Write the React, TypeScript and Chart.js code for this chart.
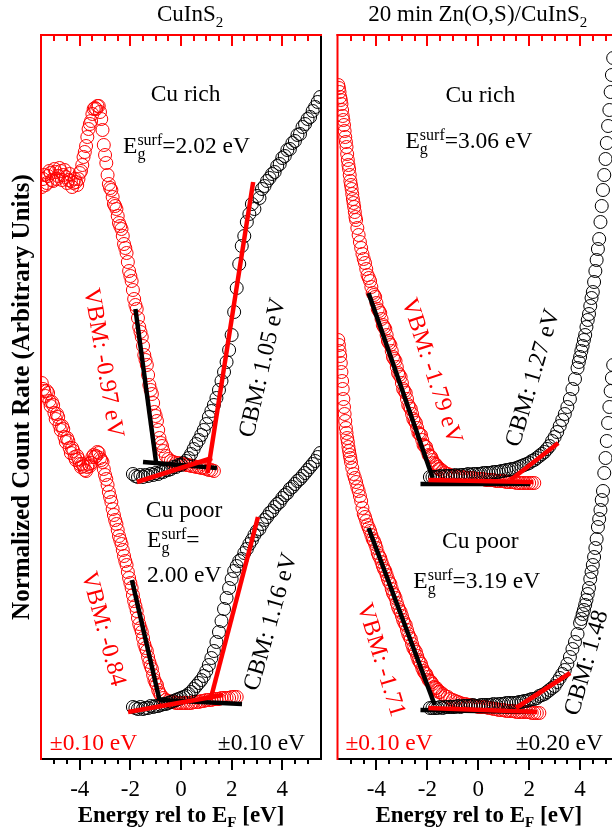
import { useEffect, useRef } from "react";
import { Chart, registerables } from "chart.js";

Chart.register(...registerables);

type Pt = [number, number];

// Band-edge positions (eV rel. to E_F) and surface gaps for the four samples:
// CuInS2 Cu rich, CuInS2 Cu poor, Zn(O,S)/CuInS2 Cu rich, Zn(O,S)/CuInS2 Cu poor
const vbm = [-0.97, -0.84, -1.79, -1.71];
const cbm = [1.05, 1.16, 1.27, 1.48];
const gapSurf = [2.02, 2.0, 3.06, 3.19];

const tickLabels = [-4, -2, 0, 2, 4];
const minorTicks = [
  -5.5, -5, -4.5, -4, -3.5, -3, -2.5, -2, -1.5, -1, -0.5, 0, 0.5, 1, 1.5, 2, 2.5, 3, 3.5, 4, 4.5, 5, 5.5,
];

// ---------- CuInS2 : Cu rich ----------
const cisRichVb: Pt[] = [
  [-5.5, 5.72], [-5.4, 5.84], [-5.3, 5.76], [-5.2, 5.88], [-5.1, 5.79], [-5.0, 5.9], [-4.9, 5.8], [-4.8, 5.91],
  [-4.7, 5.79], [-4.6, 5.89], [-4.5, 5.76], [-4.4, 5.85], [-4.3, 5.72], [-4.2, 5.8], [-4.1, 5.74], [-4.0, 5.86],
  [-3.9, 5.94], [-3.8, 6.07], [-3.7, 6.22], [-3.6, 6.35], [-3.5, 6.45], [-3.4, 6.51], [-3.3, 6.53], [-3.2, 6.47],
  [-3.1, 6.29], [-3.0, 6.04], [-2.9, 5.84], [-2.8, 5.71], [-2.7, 5.62], [-2.6, 5.53], [-2.5, 5.43], [-2.4, 5.33],
  [-2.3, 5.23], [-2.2, 5.11], [-2.1, 4.97], [-2.0, 4.83], [-1.9, 4.69], [-1.8, 4.54], [-1.7, 4.41], [-1.6, 4.27],
  [-1.5, 4.13], [-1.4, 3.99], [-1.3, 3.84], [-1.2, 3.69], [-1.1, 3.56], [-1.0, 3.43], [-0.9, 3.29], [-0.8, 3.16],
  [-0.7, 3.08], [-0.6, 3.03], [-0.5, 3.0], [-0.4, 2.98], [-0.3, 2.97], [-0.2, 2.96], [-0.1, 2.96], [0.0, 2.95],
  [0.1, 2.95], [0.2, 2.94], [0.3, 2.94], [0.4, 2.93], [0.5, 2.93], [0.6, 2.92], [0.7, 2.92], [0.8, 2.91],
  [0.9, 2.91], [1.0, 2.9], [1.1, 2.89], [1.2, 2.89], [1.3, 2.88],
  // half-step readings
  [-5.45, 5.8], [-5.35, 5.74], [-5.25, 5.83], [-5.15, 5.86], [-5.05, 5.78], [-4.95, 5.87], [-4.85, 5.83],
  [-4.75, 5.88], [-4.65, 5.84], [-4.55, 5.82], [-4.45, 5.79], [-4.35, 5.78], [-4.25, 5.76], [-4.15, 5.77],
  [-4.05, 5.8], [-3.95, 5.88], [-3.85, 6.02], [-3.75, 6.13], [-3.65, 6.3], [-3.55, 6.38], [-3.45, 6.5],
  [-3.35, 6.5], [-3.25, 6.53], [-3.15, 6.4], [-3.05, 6.14], [-2.95, 5.96], [-2.85, 5.75], [-2.75, 5.69],
  [-2.65, 5.55], [-2.55, 5.5], [-2.45, 5.36], [-2.35, 5.3], [-2.25, 5.15], [-2.15, 5.06], [-2.05, 4.88],
  [-1.95, 4.78], [-1.85, 4.6], [-1.75, 4.5], [-1.65, 4.32], [-1.55, 4.22], [-1.45, 4.04], [-1.35, 3.94],
  [-1.25, 3.74], [-1.15, 3.65], [-1.05, 3.47], [-0.95, 3.38], [-0.85, 3.21], [-0.75, 3.13],
];
const cisRichCb: Pt[] = [
  [-1.9, 2.85], [-1.8, 2.83], [-1.7, 2.82], [-1.6, 2.84], [-1.5, 2.82], [-1.4, 2.84], [-1.3, 2.83], [-1.2, 2.85],
  [-1.1, 2.84], [-1.0, 2.86], [-0.9, 2.85], [-0.8, 2.87], [-0.7, 2.87], [-0.6, 2.89], [-0.5, 2.89], [-0.4, 2.9],
  [-0.3, 2.92], [-0.2, 2.92], [-0.1, 2.94], [0.0, 2.94], [0.1, 2.96], [0.2, 2.98], [0.3, 3.01], [0.4, 3.05],
  [0.5, 3.1], [0.6, 3.15], [0.7, 3.19], [0.8, 3.24], [0.9, 3.29], [1.0, 3.35], [1.1, 3.42], [1.2, 3.48],
  [1.3, 3.54], [1.4, 3.61], [1.5, 3.69], [1.6, 3.78], [1.7, 3.87], [1.8, 3.97], [1.9, 4.09], [2.0, 4.24],
  [2.1, 4.47], [2.2, 4.71], [2.3, 4.95], [2.4, 5.13], [2.5, 5.23], [2.6, 5.37], [2.7, 5.45], [2.8, 5.55],
  [2.9, 5.5], [3.0, 5.63], [3.1, 5.61], [3.2, 5.7], [3.3, 5.73], [3.4, 5.78], [3.5, 5.81], [3.6, 5.85],
  [3.7, 5.87], [3.8, 5.93], [3.9, 5.95], [4.0, 6.01], [4.1, 6.03], [4.2, 6.09], [4.3, 6.1], [4.4, 6.16],
  [4.5, 6.18], [4.6, 6.24], [4.7, 6.25], [4.8, 6.32], [4.9, 6.35], [5.0, 6.4], [5.1, 6.42], [5.2, 6.48],
  [5.3, 6.52], [5.4, 6.57], [5.5, 6.62],
];
const cisRichVbFit: Pt[] = [[-1.8, 4.5], [vbm[0], 2.94]];
const cisRichVbBase: Pt[] = [[-1.5, 2.97], [1.42, 2.91]];
const cisRichCbFit: Pt[] = [[2.85, 5.77], [cbm[0], 2.86]];
const cisRichCbBase: Pt[] = [[-1.74, 2.77], [1.23, 3.01]];

// ---------- CuInS2 : Cu poor ----------
const cisPoorVb: Pt[] = [
  [-5.5, 3.76], [-5.4, 3.68], [-5.3, 3.68], [-5.2, 3.58], [-5.1, 3.57], [-5.0, 3.46], [-4.9, 3.45], [-4.8, 3.34],
  [-4.7, 3.33], [-4.6, 3.22], [-4.5, 3.21], [-4.4, 3.11], [-4.3, 3.11], [-4.2, 3.02], [-4.1, 3.03], [-4.0, 2.95],
  [-3.9, 2.95], [-3.8, 2.89], [-3.7, 2.92], [-3.6, 2.93], [-3.5, 3.02], [-3.4, 3.02], [-3.3, 3.07], [-3.2, 3.01],
  [-3.1, 2.97], [-3.0, 2.84], [-2.9, 2.74], [-2.8, 2.62], [-2.7, 2.5], [-2.6, 2.39], [-2.5, 2.29], [-2.4, 2.19],
  [-2.3, 2.09], [-2.2, 1.98], [-2.1, 1.87], [-2.0, 1.76], [-1.9, 1.64], [-1.8, 1.53], [-1.7, 1.41], [-1.6, 1.31],
  [-1.5, 1.21], [-1.4, 1.11], [-1.3, 1.02], [-1.2, 0.93], [-1.1, 0.84], [-1.0, 0.76], [-0.9, 0.69], [-0.8, 0.64],
  [-0.7, 0.61], [-0.6, 0.59], [-0.5, 0.58], [-0.4, 0.57], [-0.3, 0.57], [-0.2, 0.56], [-0.1, 0.56], [0.0, 0.56],
  [0.1, 0.56], [0.2, 0.56], [0.3, 0.56], [0.4, 0.56], [0.5, 0.57], [0.6, 0.57], [0.7, 0.57], [0.8, 0.58],
  [0.9, 0.58], [1.0, 0.59], [1.1, 0.59], [1.2, 0.59], [1.3, 0.6], [1.4, 0.6], [1.5, 0.6], [1.6, 0.61],
  [1.7, 0.61], [1.8, 0.61], [1.9, 0.61], [2.0, 0.62], [2.1, 0.62], [2.2, 0.62],
  // half-step readings
  [-5.45, 3.7], [-5.35, 3.63], [-5.25, 3.66], [-5.15, 3.53], [-5.05, 3.54], [-4.95, 3.4], [-4.85, 3.42],
  [-4.75, 3.29], [-4.65, 3.3], [-4.55, 3.17], [-4.45, 3.18], [-4.35, 3.06], [-4.25, 3.08], [-4.15, 2.99],
  [-4.05, 3.0], [-3.95, 2.92], [-3.85, 2.93], [-3.75, 2.88], [-3.65, 2.95], [-3.55, 2.96], [-3.45, 3.04],
  [-3.35, 3.03], [-3.25, 3.06], [-3.15, 2.99], [-3.05, 2.9], [-2.95, 2.8], [-2.85, 2.67], [-2.75, 2.57],
  [-2.65, 2.44], [-2.55, 2.35], [-2.45, 2.23], [-2.35, 2.15], [-2.25, 2.03], [-2.15, 1.94], [-2.05, 1.81],
  [-1.95, 1.71], [-1.85, 1.58], [-1.75, 1.48], [-1.65, 1.35], [-1.55, 1.27], [-1.45, 1.15], [-1.35, 1.08],
  [-1.25, 0.97], [-1.15, 0.9], [-1.05, 0.79], [-0.95, 0.74], [-0.85, 0.66],
];
const cisPoorCb: Pt[] = [
  [-1.9, 0.52], [-1.8, 0.51], [-1.7, 0.5], [-1.6, 0.52], [-1.5, 0.5], [-1.4, 0.51], [-1.3, 0.51], [-1.2, 0.53],
  [-1.1, 0.52], [-1.0, 0.53], [-0.9, 0.53], [-0.8, 0.54], [-0.7, 0.55], [-0.6, 0.55], [-0.5, 0.56], [-0.4, 0.57],
  [-0.3, 0.58], [-0.2, 0.59], [-0.1, 0.6], [0.0, 0.61], [0.1, 0.62], [0.2, 0.63], [0.3, 0.65], [0.4, 0.67],
  [0.5, 0.7], [0.6, 0.73], [0.7, 0.76], [0.8, 0.79], [0.9, 0.83], [1.0, 0.88], [1.1, 0.94], [1.2, 1.01],
  [1.3, 1.08], [1.4, 1.17], [1.5, 1.27], [1.6, 1.38], [1.7, 1.5], [1.8, 1.61], [1.9, 1.71], [2.0, 1.8],
  [2.1, 1.88], [2.2, 1.93], [2.3, 1.98], [2.4, 2.0], [2.5, 2.06], [2.6, 2.1], [2.7, 2.15], [2.8, 2.19],
  [2.9, 2.24], [3.0, 2.28], [3.1, 2.3], [3.2, 2.35], [3.3, 2.39], [3.4, 2.42], [3.5, 2.46], [3.6, 2.48],
  [3.7, 2.52], [3.8, 2.55], [3.9, 2.57], [4.0, 2.61], [4.1, 2.64], [4.2, 2.66], [4.3, 2.7], [4.4, 2.72],
  [4.5, 2.75], [4.6, 2.78], [4.7, 2.8], [4.8, 2.83], [4.9, 2.86], [5.0, 2.89], [5.1, 2.92], [5.2, 2.95],
  [5.3, 2.98], [5.4, 3.02], [5.5, 3.06],
];
const cisPoorVbFit: Pt[] = [[-1.94, 1.79], [vbm[1], 0.58]];
const cisPoorVbBase: Pt[] = [[-0.87, 0.59], [2.41, 0.55]];
const cisPoorCbFit: Pt[] = [[3.04, 2.42], [cbm[1], 0.59]];
const cisPoorCbBase: Pt[] = [[-2.09, 0.47], [1.66, 0.64]];

// ---------- 20 min Zn(O,S)/CuInS2 : Cu rich ----------
const znRichVb: Pt[] = [
  [-5.5, 6.74], [-5.45, 6.67], [-5.4, 6.59], [-5.35, 6.49], [-5.3, 6.39], [-5.25, 6.28], [-5.2, 6.17],
  [-5.15, 6.05], [-5.1, 5.94], [-5.05, 5.84], [-5.0, 5.74], [-4.95, 5.65], [-4.9, 5.56], [-4.85, 5.47],
  [-4.8, 5.39], [-4.75, 5.31], [-4.7, 5.24], [-4.65, 5.17], [-4.6, 5.11], [-4.55, 5.05], [-4.5, 5.0],
  [-4.4, 4.9], [-4.3, 4.81], [-4.2, 4.72], [-4.1, 4.64], [-4.0, 4.56], [-3.9, 4.48], [-3.8, 4.4], [-3.7, 4.32],
  [-3.6, 4.24], [-3.5, 4.16], [-3.4, 4.08], [-3.3, 4.0], [-3.2, 3.92], [-3.1, 3.84], [-3.0, 3.76], [-2.9, 3.68],
  [-2.8, 3.6], [-2.7, 3.52], [-2.6, 3.45], [-2.5, 3.38], [-2.4, 3.31], [-2.3, 3.25], [-2.2, 3.19], [-2.1, 3.13],
  [-2.0, 3.08], [-1.9, 3.03], [-1.8, 2.99], [-1.7, 2.95], [-1.6, 2.92], [-1.5, 2.9], [-1.4, 2.88], [-1.3, 2.86],
  [-1.2, 2.85], [-1.1, 2.84], [-1.0, 2.83], [-0.9, 2.83], [-0.8, 2.82], [-0.7, 2.82], [-0.6, 2.82], [-0.5, 2.81],
  [-0.4, 2.81], [-0.3, 2.81], [-0.2, 2.81], [-0.1, 2.8], [0.0, 2.8], [0.1, 2.8], [0.2, 2.8], [0.3, 2.79],
  [0.4, 2.79], [0.5, 2.79], [0.6, 2.79], [0.7, 2.78], [0.8, 2.78], [0.9, 2.78], [1.0, 2.78], [1.1, 2.77],
  [1.2, 2.77], [1.3, 2.77], [1.4, 2.77], [1.5, 2.76], [1.6, 2.76], [1.7, 2.76], [1.8, 2.76], [1.9, 2.76],
  [2.0, 2.76], [2.1, 2.76], [2.2, 2.76],
  // intermediate readings
  [-5.475, 6.71], [-5.425, 6.62], [-5.375, 6.55], [-5.325, 6.43], [-5.275, 6.34], [-5.225, 6.22],
  [-5.175, 6.12], [-5.125, 5.99], [-5.075, 5.9], [-5.025, 5.78], [-4.975, 5.7], [-4.925, 5.6], [-4.875, 5.52],
  [-4.825, 5.42], [-4.45, 4.96], [-4.35, 4.84], [-4.25, 4.78], [-4.15, 4.66], [-4.05, 4.62], [-3.95, 4.5],
  [-3.85, 4.46], [-3.75, 4.34], [-3.65, 4.3], [-3.55, 4.18], [-3.45, 4.14], [-3.35, 4.02], [-3.25, 3.98],
  [-3.15, 3.86], [-3.05, 3.82], [-2.95, 3.7], [-2.85, 3.66], [-2.75, 3.54], [-2.65, 3.5], [-2.55, 3.4],
  [-2.45, 3.36], [-2.35, 3.26], [-2.25, 3.24], [-2.15, 3.14], [-2.05, 3.12], [-1.95, 3.04], [-1.85, 3.02],
  [-1.75, 2.96], [-1.65, 2.94], [-1.55, 2.9],
];
const znRichCb: Pt[] = [
  [-1.9, 2.82], [-1.8, 2.82], [-1.7, 2.82], [-1.6, 2.82], [-1.5, 2.83], [-1.4, 2.82], [-1.3, 2.83], [-1.2, 2.83],
  [-1.1, 2.83], [-1.0, 2.83], [-0.9, 2.84], [-0.8, 2.83], [-0.7, 2.84], [-0.6, 2.84], [-0.5, 2.84], [-0.4, 2.85],
  [-0.3, 2.84], [-0.2, 2.85], [-0.1, 2.85], [0.0, 2.85], [0.1, 2.85], [0.2, 2.86], [0.3, 2.86], [0.4, 2.86],
  [0.5, 2.86], [0.6, 2.87], [0.7, 2.87], [0.8, 2.87], [0.9, 2.88], [1.0, 2.88], [1.1, 2.89], [1.2, 2.89],
  [1.3, 2.9], [1.4, 2.9], [1.5, 2.91], [1.6, 2.92], [1.7, 2.93], [1.8, 2.94], [1.9, 2.95], [2.0, 2.96],
  [2.1, 2.98], [2.2, 2.99], [2.3, 3.01], [2.4, 3.03], [2.5, 3.05], [2.6, 3.07], [2.7, 3.1], [2.8, 3.13],
  [2.9, 3.18], [3.0, 3.22], [3.1, 3.27], [3.2, 3.33], [3.3, 3.39], [3.4, 3.45], [3.5, 3.52], [3.6, 3.6],
  [3.7, 3.7], [3.8, 3.8], [3.9, 3.91], [3.95, 3.97], [4.0, 4.02], [4.05, 4.08], [4.1, 4.13], [4.15, 4.19],
  [4.2, 4.24], [4.25, 4.32], [4.3, 4.39], [4.35, 4.45], [4.4, 4.53], [4.45, 4.61], [4.5, 4.67], [4.55, 4.77],
  [4.6, 4.88], [4.65, 4.99], [4.7, 5.1], [4.75, 5.2], [4.8, 5.37], [4.85, 5.53], [4.9, 5.69], [4.95, 5.84],
  [5.0, 6.0], [5.05, 6.16], [5.1, 6.33], [5.15, 6.49], [5.2, 6.67], [5.25, 6.84], [5.3, 7.01],
];
const znRichVbFit: Pt[] = [[-4.31, 4.66], [vbm[2], 2.81]];
const znRichVbBase: Pt[] = [[-2.27, 2.75], [2.04, 2.75]];
const znRichCbFit: Pt[] = [[3.14, 3.16], [cbm[2], 2.79]];
const znRichCbBase: Pt[] = [[-1.96, 2.79], [2.16, 2.77]];

// ---------- 20 min Zn(O,S)/CuInS2 : Cu poor ----------
const znPoorVb: Pt[] = [
  [-5.5, 4.19], [-5.45, 4.08], [-5.4, 3.96], [-5.35, 3.78], [-5.3, 3.6], [-5.25, 3.45], [-5.2, 3.31],
  [-5.15, 3.21], [-5.1, 3.12], [-5.05, 3.04], [-5.0, 2.97], [-4.95, 2.91], [-4.9, 2.85], [-4.85, 2.81],
  [-4.8, 2.77], [-4.75, 2.72], [-4.7, 2.68], [-4.65, 2.63], [-4.6, 2.58], [-4.55, 2.51], [-4.5, 2.45],
  [-4.4, 2.38], [-4.3, 2.31], [-4.2, 2.24], [-4.1, 2.18], [-4.0, 2.11], [-3.9, 2.03], [-3.8, 1.97], [-3.7, 1.9],
  [-3.6, 1.84], [-3.5, 1.77], [-3.4, 1.7], [-3.3, 1.64], [-3.2, 1.56], [-3.1, 1.49], [-3.0, 1.43], [-2.9, 1.36],
  [-2.8, 1.29], [-2.7, 1.22], [-2.6, 1.15], [-2.5, 1.09], [-2.4, 1.03], [-2.3, 0.97], [-2.2, 0.91], [-2.1, 0.86],
  [-2.0, 0.82], [-1.9, 0.78], [-1.8, 0.75], [-1.7, 0.71], [-1.6, 0.69], [-1.5, 0.67], [-1.4, 0.65], [-1.3, 0.63],
  [-1.2, 0.62], [-1.1, 0.6], [-1.0, 0.59], [-0.9, 0.58], [-0.8, 0.57], [-0.7, 0.56], [-0.6, 0.55], [-0.5, 0.55],
  [-0.4, 0.54], [-0.3, 0.54], [-0.2, 0.53], [-0.1, 0.53], [0.0, 0.52], [0.1, 0.52], [0.2, 0.52], [0.3, 0.52],
  [0.4, 0.51], [0.5, 0.51], [0.6, 0.5], [0.7, 0.5], [0.8, 0.49], [0.9, 0.49], [1.0, 0.49], [1.1, 0.48],
  [1.2, 0.48], [1.3, 0.48], [1.4, 0.48], [1.5, 0.47], [1.6, 0.47], [1.7, 0.47], [1.8, 0.47], [1.9, 0.47],
  [2.0, 0.47], [2.1, 0.46], [2.2, 0.46], [2.3, 0.46], [2.4, 0.46],
  // intermediate readings
  [-5.475, 4.14], [-5.425, 4.03], [-5.375, 3.87], [-5.325, 3.7], [-5.275, 3.52], [-5.225, 3.38],
  [-5.175, 3.26], [-5.125, 3.17], [-5.075, 3.08], [-5.025, 3.01], [-4.45, 2.42], [-4.35, 2.34], [-4.25, 2.28],
  [-4.15, 2.2], [-4.05, 2.15], [-3.95, 2.06], [-3.85, 2.01], [-3.75, 1.93], [-3.65, 1.88], [-3.55, 1.8],
  [-3.45, 1.75], [-3.35, 1.66], [-3.25, 1.61], [-3.15, 1.52], [-3.05, 1.47], [-2.95, 1.39], [-2.85, 1.34],
  [-2.75, 1.25], [-2.65, 1.2], [-2.55, 1.11], [-2.45, 1.07], [-2.35, 0.99], [-2.25, 0.95], [-2.15, 0.88],
  [-2.05, 0.85], [-1.95, 0.79], [-1.85, 0.77], [-1.75, 0.72], [-1.65, 0.71], [-1.55, 0.67],
];
const znPoorCb: Pt[] = [
  [-1.9, 0.51], [-1.8, 0.51], [-1.7, 0.51], [-1.6, 0.51], [-1.5, 0.52], [-1.4, 0.51], [-1.3, 0.52], [-1.2, 0.52],
  [-1.1, 0.52], [-1.0, 0.52], [-0.9, 0.52], [-0.8, 0.53], [-0.7, 0.52], [-0.6, 0.53], [-0.5, 0.53], [-0.4, 0.53],
  [-0.3, 0.53], [-0.2, 0.54], [-0.1, 0.53], [0.0, 0.53], [0.1, 0.54], [0.2, 0.54], [0.3, 0.54], [0.4, 0.54],
  [0.5, 0.54], [0.6, 0.55], [0.7, 0.54], [0.8, 0.55], [0.9, 0.55], [1.0, 0.55], [1.1, 0.56], [1.2, 0.56],
  [1.3, 0.56], [1.4, 0.56], [1.5, 0.56], [1.6, 0.57], [1.7, 0.57], [1.8, 0.58], [1.9, 0.58], [2.0, 0.59],
  [2.1, 0.6], [2.2, 0.6], [2.3, 0.61], [2.4, 0.63], [2.5, 0.64], [2.6, 0.65], [2.7, 0.67], [2.8, 0.69],
  [2.9, 0.71], [3.0, 0.73], [3.1, 0.77], [3.2, 0.81], [3.3, 0.85], [3.4, 0.89], [3.5, 0.95], [3.6, 1.02],
  [3.7, 1.1], [3.8, 1.17], [3.9, 1.25], [4.0, 1.36], [4.05, 1.4], [4.1, 1.45], [4.15, 1.49], [4.2, 1.54],
  [4.25, 1.59], [4.3, 1.65], [4.35, 1.71], [4.4, 1.8], [4.45, 1.87], [4.5, 1.94], [4.55, 2.02], [4.6, 2.11],
  [4.65, 2.2], [4.7, 2.32], [4.75, 2.4], [4.8, 2.49], [4.85, 2.59], [4.9, 2.68], [4.95, 2.86], [5.0, 3.01],
  [5.05, 3.18], [5.1, 3.36], [5.15, 3.52], [5.2, 3.68], [5.25, 3.81], [5.3, 3.94],
];
const znPoorVbFit: Pt[] = [[-4.31, 2.31], [vbm[3], 0.54]];
const znPoorVbBase: Pt[] = [[-2.27, 0.49], [2.16, 0.47]];
const znPoorCbFit: Pt[] = [[3.61, 0.86], [cbm[3], 0.51]];
const znPoorCbBase: Pt[] = [[-1.96, 0.51], [2.31, 0.47]];

const SERIF = "'Liberation Serif', 'Times New Roman', Times, serif";
const RED = "#ff0000";
const BLACK = "#000000";
const PAGE_H = 835;
const Y_MAX = 7.24;

type Run = { t: string; size?: number; dy?: number; bold?: boolean; stack?: boolean };
type Note = {
  runs: Run[];
  x: number;
  y: number;
  align?: "left" | "center" | "right";
  rotate?: number;
  color?: string;
  mid?: boolean;
};

const TXT = 23.5;
const ROT = 24;

const egRuns = (rest: string): Run[] => [
  { t: "E" },
  { t: "g", size: 16, dy: 6, stack: true },
  { t: "surf", size: 16, dy: -8 },
  { t: rest },
];
const plain = (t: string, size = TXT): Run[] => [{ t, size }];
const axisTitle: Run[] = [
  { t: "Energy rel to E", bold: true, size: 23 },
  { t: "F", bold: true, size: 15, dy: 5 },
  { t: " [eV]", bold: true, size: 23 },
];

type PanelSpec = {
  left: number;
  width: number;
  padLeft: number;
  padRight: number;
  xMin: number;
  xMax: number;
  rightBorder: string;
  redSets: Pt[][];
  blackSets: Pt[][];
  blackFits: Pt[][];
  redFits: Pt[][];
  notes: Note[];
};

const leftPanel: PanelSpec = {
  left: 0,
  width: 330,
  padLeft: 41,
  padRight: 9,
  xMin: -5.53,
  xMax: 5.53,
  rightBorder: BLACK,
  redSets: [cisRichVb, cisPoorVb],
  blackSets: [cisRichCb, cisPoorCb],
  blackFits: [cisRichVbFit, cisRichVbBase, cisPoorVbFit, cisPoorVbBase],
  redFits: [cisRichCbFit, cisRichCbBase, cisPoorCbFit, cisPoorCbBase],
  notes: [
    { runs: [{ t: "CuInS", size: 23 }, { t: "2", size: 15, dy: 6 }], x: 0.36, y: 7.38, align: "center" },
    { runs: plain("Cu rich"), x: 0.18, y: 6.58, align: "center" },
    { runs: egRuns(`=${gapSurf[0].toFixed(2)} eV`), x: -2.29, y: 6.06 },
    { runs: plain(`VBM: ${vbm[0].toFixed(2)} eV`, ROT), x: -3.08, y: 3.96, rotate: 80.5, color: RED, align: "center", mid: true },
    { runs: plain(`CBM: ${cbm[0].toFixed(2)} eV`, ROT), x: 3.24, y: 3.91, rotate: -77, align: "center", mid: true },
    { runs: plain("Cu poor"), x: 0.12, y: 2.42, align: "center" },
    { runs: egRuns("="), x: -1.34, y: 2.12 },
    { runs: plain(`${gapSurf[1].toFixed(2)} eV`), x: -1.34, y: 1.77 },
    { runs: plain(`VBM: ${vbm[1].toFixed(2)}`, ROT), x: -3.08, y: 1.3, rotate: 75, color: RED, align: "center", mid: true },
    { runs: plain(`CBM: ${cbm[1].toFixed(2)} eV`, ROT), x: 3.56, y: 1.37, rotate: -74, align: "center", mid: true },
    { runs: plain("\u00b10.10 eV"), x: -5.18, y: 0.09, color: RED },
    { runs: plain("\u00b10.10 eV"), x: 4.9, y: 0.09, align: "right" },
    { runs: axisTitle, x: 0, y: -0.63, align: "center" },
    {
      runs: [{ t: "Normalized Count Rate (Arbitrary Units)", bold: true, size: 25 }],
      x: -6.245,
      y: 3.62,
      rotate: -90,
      align: "center",
      mid: true,
    },
  ],
};

const rightPanel: PanelSpec = {
  left: 330,
  width: 300,
  padLeft: 7,
  padRight: 13,
  xMin: -5.53,
  xMax: 5.45,
  rightBorder: BLACK,
  redSets: [znRichVb, znPoorVb],
  blackSets: [znRichCb, znPoorCb],
  blackFits: [znRichVbFit, znRichVbBase, znPoorVbFit, znPoorVbBase],
  redFits: [znRichCbFit, znRichCbBase, znPoorCbFit, znPoorCbBase],
  notes: [
    {
      runs: [{ t: "20 min Zn(O,S)/CuInS", size: 23 }, { t: "2", size: 15, dy: 6 }],
      x: -0.02,
      y: 7.38,
      align: "center",
    },
    { runs: plain("Cu rich"), x: 0.08, y: 6.57, align: "center" },
    { runs: egRuns(`=${gapSurf[2].toFixed(2)} eV`), x: -2.86, y: 6.11 },
    { runs: plain(`VBM: ${vbm[2].toFixed(2)} eV`, ROT), x: -1.84, y: 3.88, rotate: 72, color: RED, align: "center", mid: true },
    { runs: plain(`CBM: ${cbm[2].toFixed(2)} eV`, ROT), x: 2.16, y: 3.81, rotate: -73.6, align: "center", mid: true },
    { runs: plain("Cu poor"), x: 0.08, y: 2.11, align: "center" },
    { runs: egRuns(`=${gapSurf[3].toFixed(2)} eV`), x: -2.55, y: 1.71 },
    { runs: plain(`VBM: ${vbm[3].toFixed(2)}`, ROT), x: -3.84, y: 0.99, rotate: 73, color: RED, align: "center", mid: true },
    { runs: plain(`CBM: ${cbm[3].toFixed(2)}`, ROT), x: 4.27, y: 0.96, rotate: -74, align: "center", mid: true },
    { runs: plain("\u00b10.10 eV"), x: -5.22, y: 0.09, color: RED },
    { runs: plain("\u00b10.20 eV"), x: 4.9, y: 0.09, align: "right" },
    { runs: axisTitle, x: 0.02, y: -0.63, align: "center" },
  ],
};

const fontOf = (r: Run) => `${r.bold ? "bold " : ""}${r.size ?? TXT}px ${SERIF}`;

function drawNote(chart: Chart, n: Note) {
  const ctx = chart.ctx;
  const px = chart.scales.x.getPixelForValue(n.x);
  const py = chart.scales.y.getPixelForValue(n.y);
  const placed: { r: Run; x: number }[] = [];
  let cx = 0;
  for (let i = 0; i < n.runs.length; i++) {
    const r = n.runs[i];
    ctx.font = fontOf(r);
    const w = ctx.measureText(r.t).width;
    if (r.stack && i + 1 < n.runs.length) {
      const r2 = n.runs[i + 1];
      ctx.font = fontOf(r2);
      const w2 = ctx.measureText(r2.t).width;
      placed.push({ r, x: cx }, { r: r2, x: cx });
      cx += Math.max(w, w2);
      i++;
    } else {
      placed.push({ r, x: cx });
      cx += w;
    }
  }
  const off = n.align === "center" ? -cx / 2 : n.align === "right" ? -cx : 0;
  ctx.save();
  ctx.translate(px, py);
  if (n.rotate) ctx.rotate((n.rotate * Math.PI) / 180);
  ctx.fillStyle = n.color ?? BLACK;
  ctx.textAlign = "left";
  ctx.textBaseline = n.mid ? "middle" : "alphabetic";
  for (const p of placed) {
    ctx.font = fontOf(p.r);
    ctx.fillText(p.r.t, off + p.x, p.r.dy ?? 0);
  }
  ctx.restore();
}

function framePlugin(spec: PanelSpec) {
  return {
    id: "frameAndNotes",
    afterDraw(chart: Chart) {
      const ctx = chart.ctx;
      const a = chart.chartArea;
      const xs = chart.scales.x;
      ctx.save();
      ctx.lineWidth = 2;
      ctx.lineCap = "butt";
      const seg = (x1: number, y1: number, x2: number, y2: number, c: string) => {
        ctx.strokeStyle = c;
        ctx.beginPath();
        ctx.moveTo(x1, y1);
        ctx.lineTo(x2, y2);
        ctx.stroke();
      };
      for (const v of minorTicks) {
        const px = Math.round(xs.getPixelForValue(v));
        if (px < a.left + 3 || px > a.right - 3) continue;
        const major = tickLabels.includes(v);
        seg(px, a.top, px, a.top + (major ? 11 : 6), RED);
        seg(px, a.bottom, px, a.bottom + (major ? 11 : 5), BLACK);
      }
      seg(a.right, a.top - 1, a.right, a.bottom + 1, spec.rightBorder);
      seg(a.left, a.bottom, a.right + 1, a.bottom, BLACK);
      seg(a.left - 1, a.top, a.right + 1, a.top, RED);
      seg(a.left, a.top - 1, a.left, a.bottom + 1, RED);
      ctx.restore();
      for (const n of spec.notes) drawNote(chart, n);
    },
  };
}

const toXY = (pts: Pt[]) => pts.map(([x, y]) => ({ x, y }));

function buildConfig(spec: PanelSpec): any {
  const circles = (pts: Pt[], color: string, order: number) => ({
    data: toXY(pts),
    showLine: false,
    pointRadius: 6.5,
    pointHoverRadius: 6.5,
    pointBorderWidth: 1,
    pointBorderColor: color,
    pointBackgroundColor: "rgba(0,0,0,0)",
    order,
  });
  const fit = (pts: Pt[], color: string, order: number) => ({
    data: toXY(pts),
    showLine: true,
    borderColor: color,
    borderWidth: 4.5,
    pointRadius: 0,
    pointHoverRadius: 0,
    order,
  });
  return {
    type: "scatter",
    data: {
      datasets: [
        ...spec.redFits.map((p) => fit(p, RED, 0)),
        ...spec.blackFits.map((p) => fit(p, BLACK, 1)),
        ...spec.blackSets.map((p) => circles(p, BLACK, 2)),
        ...spec.redSets.map((p) => circles(p, RED, 3)),
      ],
    },
    options: {
      animation: false,
      responsive: false,
      devicePixelRatio: 1,
      events: [],
      layout: { padding: { left: spec.padLeft, right: spec.padRight, top: 35, bottom: 0 } },
      plugins: { legend: { display: false }, tooltip: { enabled: false } },
      scales: {
        x: {
          type: "linear",
          min: spec.xMin,
          max: spec.xMax,
          afterBuildTicks: (s: any) => {
            s.ticks = tickLabels.map((value) => ({ value }));
          },
          afterFit: (s: any) => {
            s.height = PAGE_H - 759;
          },
          grid: { display: false, drawTicks: false },
          border: { display: false },
          ticks: {
            color: BLACK,
            font: { family: SERIF, size: 23 },
            padding: 17,
            maxRotation: 0,
            autoSkip: false,
            callback: (v: number) => String(v),
          },
        },
        y: { type: "linear", min: 0, max: Y_MAX, display: false },
      },
    },
    plugins: [framePlugin(spec)],
  };
}

function Panel({ spec }: { spec: PanelSpec }) {
  const ref = useRef<HTMLCanvasElement | null>(null);
  useEffect(() => {
    const canvas = ref.current;
    if (!canvas) return;
    const chart = new Chart(canvas, buildConfig(spec));
    return () => chart.destroy();
  }, [spec]);
  return (
    <canvas
      ref={ref}
      width={spec.width}
      height={PAGE_H}
      style={{ position: "absolute", left: spec.left, top: 0, width: spec.width, height: PAGE_H }}
    />
  );
}

export default function App() {
  return (
    <div
      style={{
        position: "absolute",
        left: 0,
        top: 0,
        width: 612,
        height: PAGE_H,
        overflow: "hidden",
        background: "#ffffff",
      }}
    >
      <Panel spec={leftPanel} />
      <Panel spec={rightPanel} />
    </div>
  );
}
